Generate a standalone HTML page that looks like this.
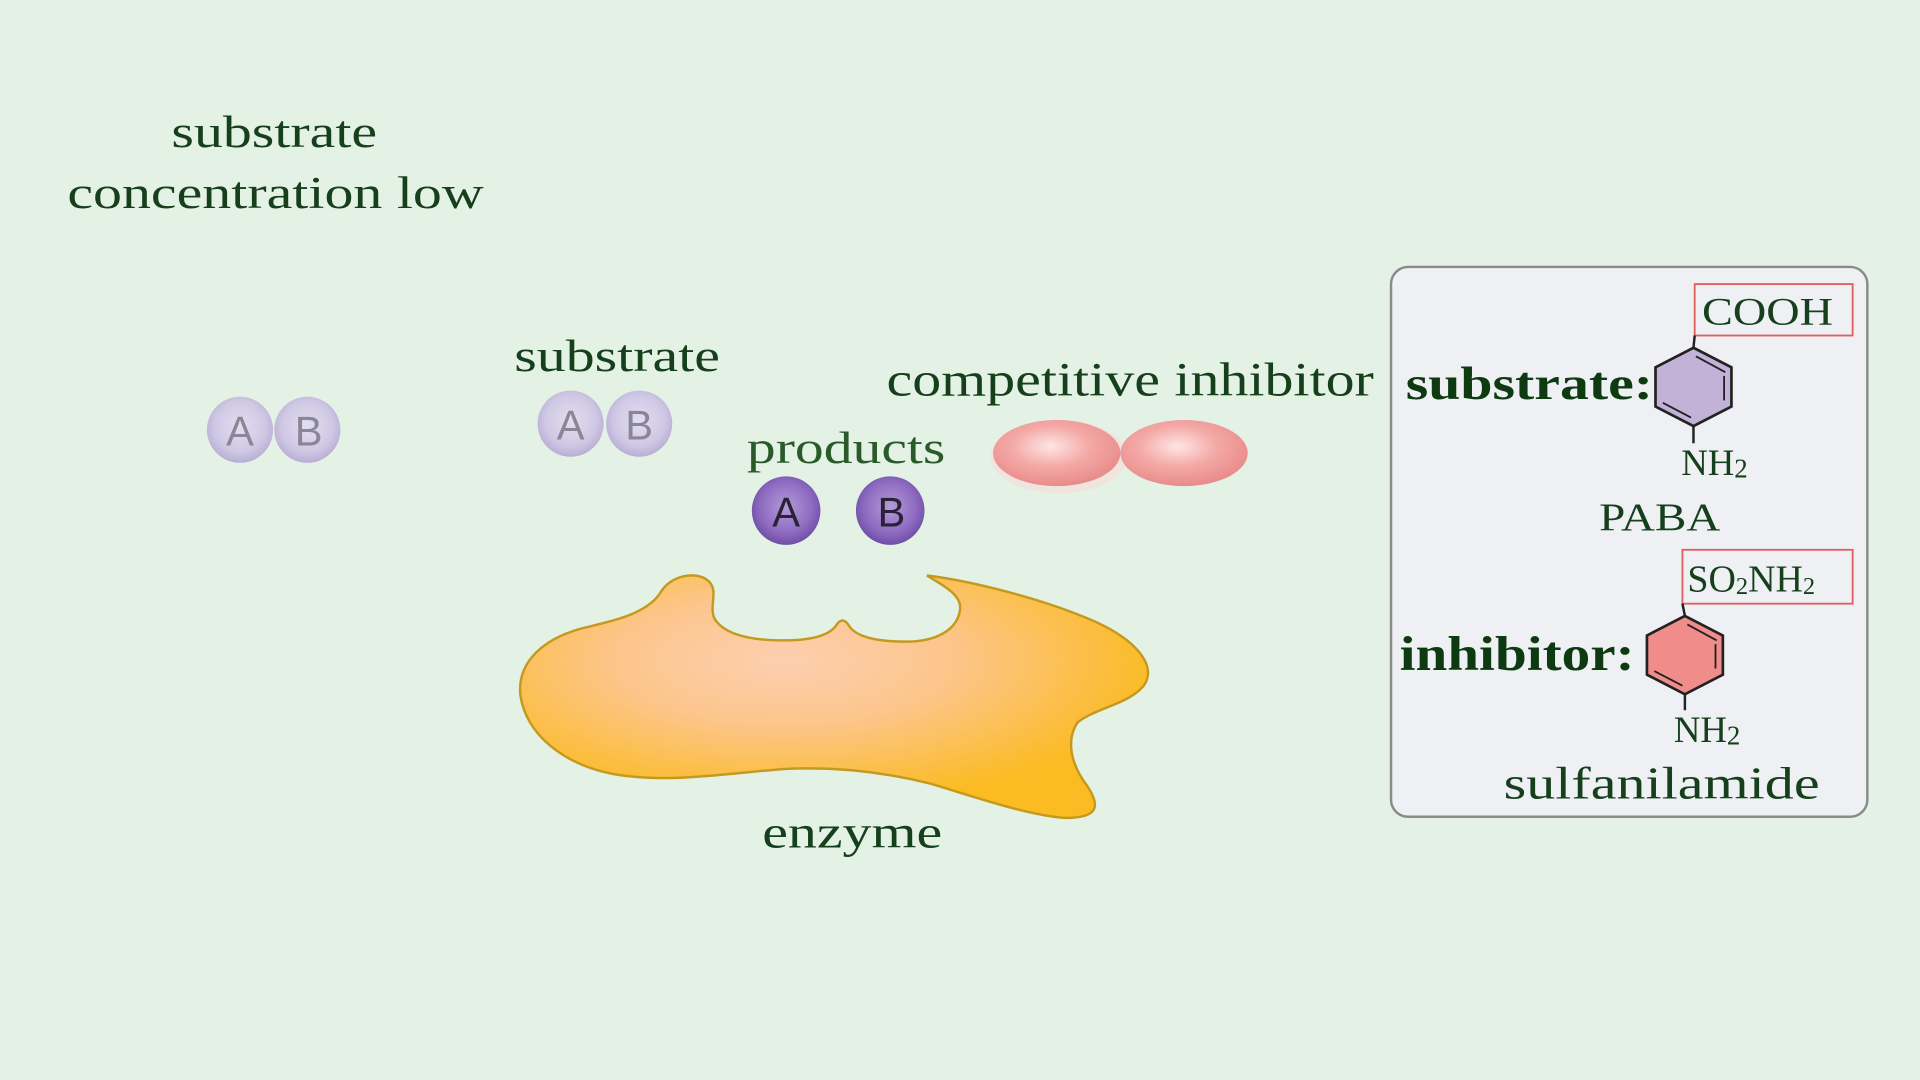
<!DOCTYPE html>
<html><head><meta charset="utf-8"><style>
html,body{margin:0;padding:0;background:#e4f2e6;}
svg{display:block;}
text{font-family:"Liberation Serif",serif;fill:#163f1c;}
.sf{font-family:"Liberation Sans",sans-serif;}
</style></head><body>
<svg width="1920" height="1080" viewBox="0 0 1568 882" xmlns="http://www.w3.org/2000/svg">
<defs>
<radialGradient id="lav" cx="50%" cy="45%" r="55%"><stop offset="0" stop-color="#e2def0"/><stop offset="0.7" stop-color="#cfc8e4"/><stop offset="1" stop-color="#b8aed4"/></radialGradient>
<radialGradient id="pur" cx="50%" cy="45%" r="55%"><stop offset="0" stop-color="#b49ad8"/><stop offset="0.7" stop-color="#8d6ac0"/><stop offset="1" stop-color="#6f4ea6"/></radialGradient>
<radialGradient id="pink" cx="45%" cy="40%" r="60%"><stop offset="0" stop-color="#fde6e4"/><stop offset="0.5" stop-color="#f4aaa8"/><stop offset="1" stop-color="#e88c8a"/></radialGradient>
<radialGradient id="enz" cx="42%" cy="35%" r="60%"><stop offset="0" stop-color="#fdcfb0"/><stop offset="0.45" stop-color="#fcc58a"/><stop offset="1" stop-color="#fbbb22"/></radialGradient>
</defs>
<rect width="1568" height="882" fill="#e4f2e6"/>

<text x="224" y="120" font-size="37" text-anchor="middle" textLength="168" lengthAdjust="spacingAndGlyphs">substrate</text>
<text x="55" y="170" font-size="37" textLength="340" lengthAdjust="spacingAndGlyphs">concentration low</text>

<!-- left AB -->
<circle cx="196" cy="351" r="27" fill="url(#lav)"/>
<circle cx="251" cy="351" r="27" fill="url(#lav)"/>
<text class="sf" x="196" y="364" font-size="34" text-anchor="middle" style="fill:#8a8698">A</text>
<text class="sf" x="252" y="364" font-size="34" text-anchor="middle" style="fill:#8a8698">B</text>

<text x="504" y="303" font-size="37" text-anchor="middle" textLength="168" lengthAdjust="spacingAndGlyphs">substrate</text>
<circle cx="466" cy="346" r="27" fill="url(#lav)"/>
<circle cx="522" cy="346" r="27" fill="url(#lav)"/>
<text class="sf" x="466" y="359" font-size="34" text-anchor="middle" style="fill:#8a8698">A</text>
<text class="sf" x="522" y="359" font-size="34" text-anchor="middle" style="fill:#8a8698">B</text>

<text x="724" y="323" font-size="39" textLength="398" lengthAdjust="spacingAndGlyphs">competitive inhibitor</text>
<ellipse cx="865" cy="373" rx="56" ry="30" fill="#f6dcd8" opacity="0.6"/>
<ellipse cx="863" cy="370" rx="52" ry="27" fill="url(#pink)"/>
<ellipse cx="967" cy="370" rx="52" ry="27" fill="url(#pink)"/>

<text x="610" y="378" font-size="37" textLength="162" lengthAdjust="spacingAndGlyphs" style="fill:#2a5a2a">products</text>
<circle cx="642" cy="417" r="28" fill="url(#pur)"/>
<circle cx="727" cy="417" r="28" fill="url(#pur)"/>
<text class="sf" x="642" y="430" font-size="34" text-anchor="middle" style="fill:#2a2236">A</text>
<text class="sf" x="728" y="430" font-size="34" text-anchor="middle" style="fill:#2a2236">B</text>

<!-- enzyme -->
<path d="M540 483 C548 470 568 466 578 474 C588 482 578 496 584 506 C592 518 612 523 640 523 C660 523 675 520 682 512 C686 505 690 505 694 512 C700 520 715 524 740 524 C765 524 782 514 784 498 C786 486 770 478 757 470 C790 474 850 488 895 508 C930 524 945 545 934 560 C922 575 895 578 880 590 C870 605 875 625 888 642 C900 660 895 668 870 668 C840 666 800 652 760 640 C720 630 680 626 640 628 C590 632 545 640 500 632 C460 624 430 600 425 568 C422 540 445 520 480 512 C505 506 530 500 540 483 Z" fill="url(#enz)" stroke="#c49a1e" stroke-width="2"/>
<text x="696" y="692" font-size="37" text-anchor="middle" textLength="147" lengthAdjust="spacingAndGlyphs">enzyme</text>

<!-- right box -->
<rect x="1136" y="218" width="389" height="449" rx="14" fill="#eef0f4" stroke="#8a8a8a" stroke-width="2"/>
<rect x="1384" y="232" width="129" height="42" fill="none" stroke="#e06060" stroke-width="1.5"/>
<text x="1390" y="265" font-size="32" textLength="107" lengthAdjust="spacingAndGlyphs">COOH</text>
<text x="1148" y="326" font-size="38" font-weight="bold" textLength="202" lengthAdjust="spacingAndGlyphs" style="fill:#0e3a12">substrate:</text>
<line x1="1384" y1="274" x2="1383" y2="284" stroke="#222" stroke-width="2"/>
<polygon points="1383,284 1414,300 1414,332 1383,348 1352,332 1352,300" fill="#c3b2d8" stroke="#222" stroke-width="2.2"/>
<g stroke="#222" stroke-width="1.5" fill="none"><line x1="1385" y1="291" x2="1409" y2="304"/><line x1="1408" y1="307" x2="1408" y2="327"/><line x1="1358" y1="329" x2="1381" y2="341"/></g>
<line x1="1383" y1="348" x2="1383" y2="362" stroke="#222" stroke-width="2"/>
<text x="1373" y="388" font-size="30">NH<tspan font-size="22" dy="2">2</tspan></text>
<text x="1306" y="433" font-size="32" textLength="99" lengthAdjust="spacingAndGlyphs">PABA</text>

<rect x="1374" y="449" width="139" height="44" fill="none" stroke="#e06060" stroke-width="1.5"/>
<text x="1378" y="483" font-size="31">SO<tspan font-size="20" dy="2">2</tspan><tspan dy="-2">NH</tspan><tspan font-size="20" dy="2">2</tspan></text>
<text x="1143" y="547" font-size="40" font-weight="bold" textLength="192" lengthAdjust="spacingAndGlyphs" style="fill:#0e3a12">inhibitor:</text>
<line x1="1374" y1="493" x2="1376" y2="503" stroke="#222" stroke-width="2"/>
<polygon points="1376,503 1407,519 1407,551 1376,567 1345,551 1345,519" fill="#f08c8a" stroke="#222" stroke-width="2.2"/>
<g stroke="#222" stroke-width="1.5" fill="none"><line x1="1378" y1="510" x2="1402" y2="523"/><line x1="1401" y1="526" x2="1401" y2="546"/><line x1="1351" y1="548" x2="1374" y2="560"/></g>
<line x1="1376" y1="567" x2="1376" y2="580" stroke="#222" stroke-width="2"/>
<text x="1367" y="606" font-size="30">NH<tspan font-size="22" dy="2">2</tspan></text>
<text x="1228" y="652" font-size="37" textLength="258" lengthAdjust="spacingAndGlyphs">sulfanilamide</text>
</svg>
</body></html>
